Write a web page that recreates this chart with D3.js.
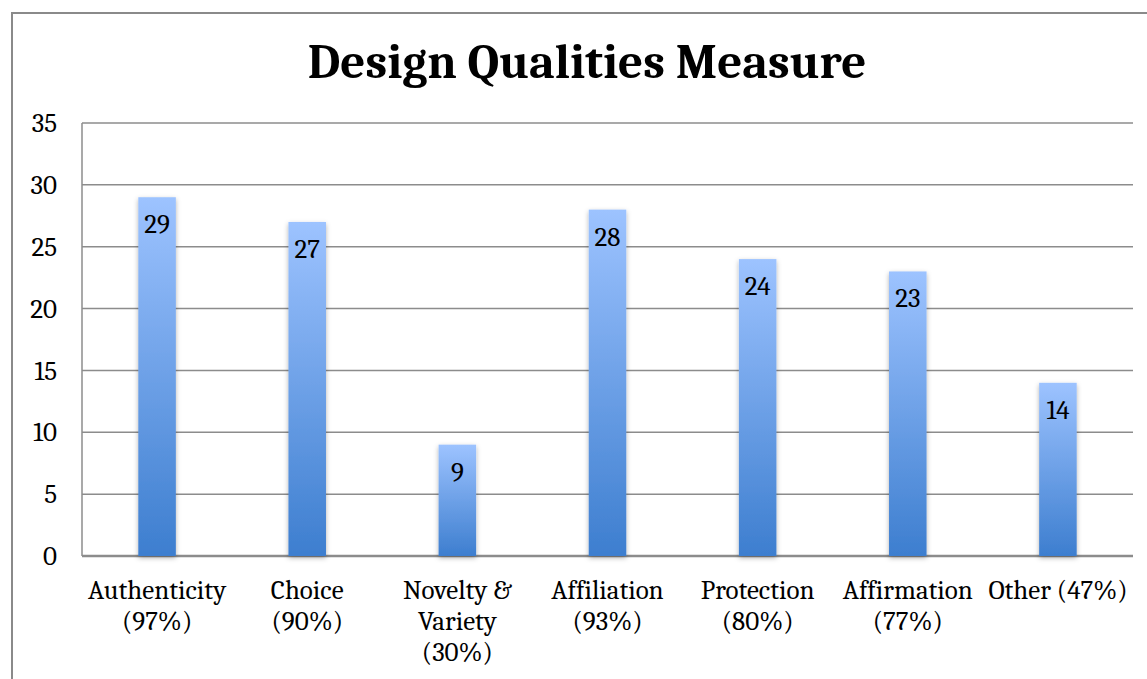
<!DOCTYPE html>
<html>
<head>
<meta charset="utf-8">
<script src="https://cdn.jsdelivr.net/npm/d3@7"></script>
<style>
    body { margin: 0; background: #fff; }
    svg { display: block; }
</style>
</head>
<body>
<svg id="chart" width="1147" height="679"></svg>
<script>
const categories = ["Authenticity", "Choice", "Novelty & Variety", "Affiliation", "Protection", "Affirmation", "Other"];
const values = [29, 27, 9, 28, 24, 23, 14];
const tickLabels = [
    ["Authenticity", "(97%)"],
    ["Choice", "(90%)"],
    ["Novelty &", "Variety", "(30%)"],
    ["Affiliation", "(93%)"],
    ["Protection", "(80%)"],
    ["Affirmation", "(77%)"],
    ["Other (47%)"]
];
const yTicks = [0, 5, 10, 15, 20, 25, 30, 35];

const font = "Cambria, 'Liberation Serif', serif";

const svg = d3.select("#chart");
const margin = { top: 123, left: 82, right: 14, bottom: 123 };
const width = 1147 - margin.left - margin.right;

// outer frame
svg.append("rect")
    .attr("x", 12).attr("y", 13)
    .attr("width", 1160).attr("height", 700)
    .style("fill", "none")
    .style("stroke", "#8a8a8a")
    .style("stroke-width", 2);

svg.append("text")
    .attr("x", 587).attr("y", 78)
    .attr("text-anchor", "middle")
    .style("font-family", font)
    .style("font-weight", "bold")
    .style("font-size", "49px")
    .text("Design Qualities Measure");

const defs = svg.append("defs");
const grad = defs.append("linearGradient")
    .attr("id", "barGrad")
    .attr("x1", 0).attr("y1", 0).attr("x2", 0).attr("y2", 1);
grad.append("stop").attr("offset", "0%").attr("stop-color", "#9dc3ff");
grad.append("stop").attr("offset", "100%").attr("stop-color", "#3d7ecf");

const shadow = defs.append("filter").attr("id", "shadow")
    .attr("x", "-30%").attr("y", "-10%").attr("width", "160%").attr("height", "120%");
shadow.append("feDropShadow")
    .attr("dx", 0).attr("dy", 2).attr("stdDeviation", 2.5)
    .attr("flood-color", "#000").attr("flood-opacity", 0.3);

const g = svg.append("g")
    .attr("transform", "translate(" + margin.left + "," + margin.top + ")");

const x = d3.scaleBand()
    .domain(categories)
    .range([0, width])
    .paddingInner(0.75)
    .paddingOuter(0.375);

const y = d3.scaleLinear()
    .domain([0, 35])
    .range([433, 0]);

// gridlines
g.selectAll(".grid")
    .data(yTicks)
    .enter()
    .append("line")
    .attr("x1", 0).attr("x2", width)
    .attr("y1", d => y(d)).attr("y2", d => y(d))
    .style("stroke", "#8c8c8c")
    .style("stroke-width", d => d === 0 ? 2.5 : 1.5);

g.append("line")
    .attr("x1", 0).attr("x2", 0)
    .attr("y1", y(35)).attr("y2", y(0))
    .style("stroke", "#8c8c8c")
    .style("stroke-width", 1.5);

const yAxis = g.append("g")
    .call(d3.axisLeft(y).tickValues(yTicks).tickSize(0).tickPadding(25));
yAxis.select(".domain").remove();
yAxis.selectAll("text")
    .style("font-family", font)
    .style("font-size", "27px")
    .style("fill", "#000");

// bars
g.selectAll(".bar")
    .data(values)
    .enter()
    .append("rect")
    .attr("x", (d, i) => x(categories[i]))
    .attr("y", d => y(d))
    .attr("width", x.bandwidth())
    .attr("height", d => y(0) - y(d))
    .style("fill", "url(#barGrad)")
    .style("filter", "url(#shadow)");

// value labels
g.selectAll(".val")
    .data(values)
    .enter()
    .append("text")
    .attr("x", (d, i) => x(categories[i]) + x.bandwidth() / 2)
    .attr("y", d => y(d) + 36)
    .attr("text-anchor", "middle")
    .style("font-family", font)
    .style("font-size", "27px")
    .text(d => d);

// category labels
const cat = g.selectAll(".cat")
    .data(tickLabels)
    .enter()
    .append("text")
    .attr("text-anchor", "middle")
    .attr("transform", (d, i) => "translate(" + (x(categories[i]) + x.bandwidth() / 2) + "," + (y(0) + 43) + ")")
    .style("font-family", font)
    .style("font-size", "27px");

cat.selectAll("tspan")
    .data(d => d)
    .enter()
    .append("tspan")
    .attr("x", 0)
    .attr("dy", (d, i) => i === 0 ? 0 : 31)
    .text(d => d);
</script>
</body>
</html>
